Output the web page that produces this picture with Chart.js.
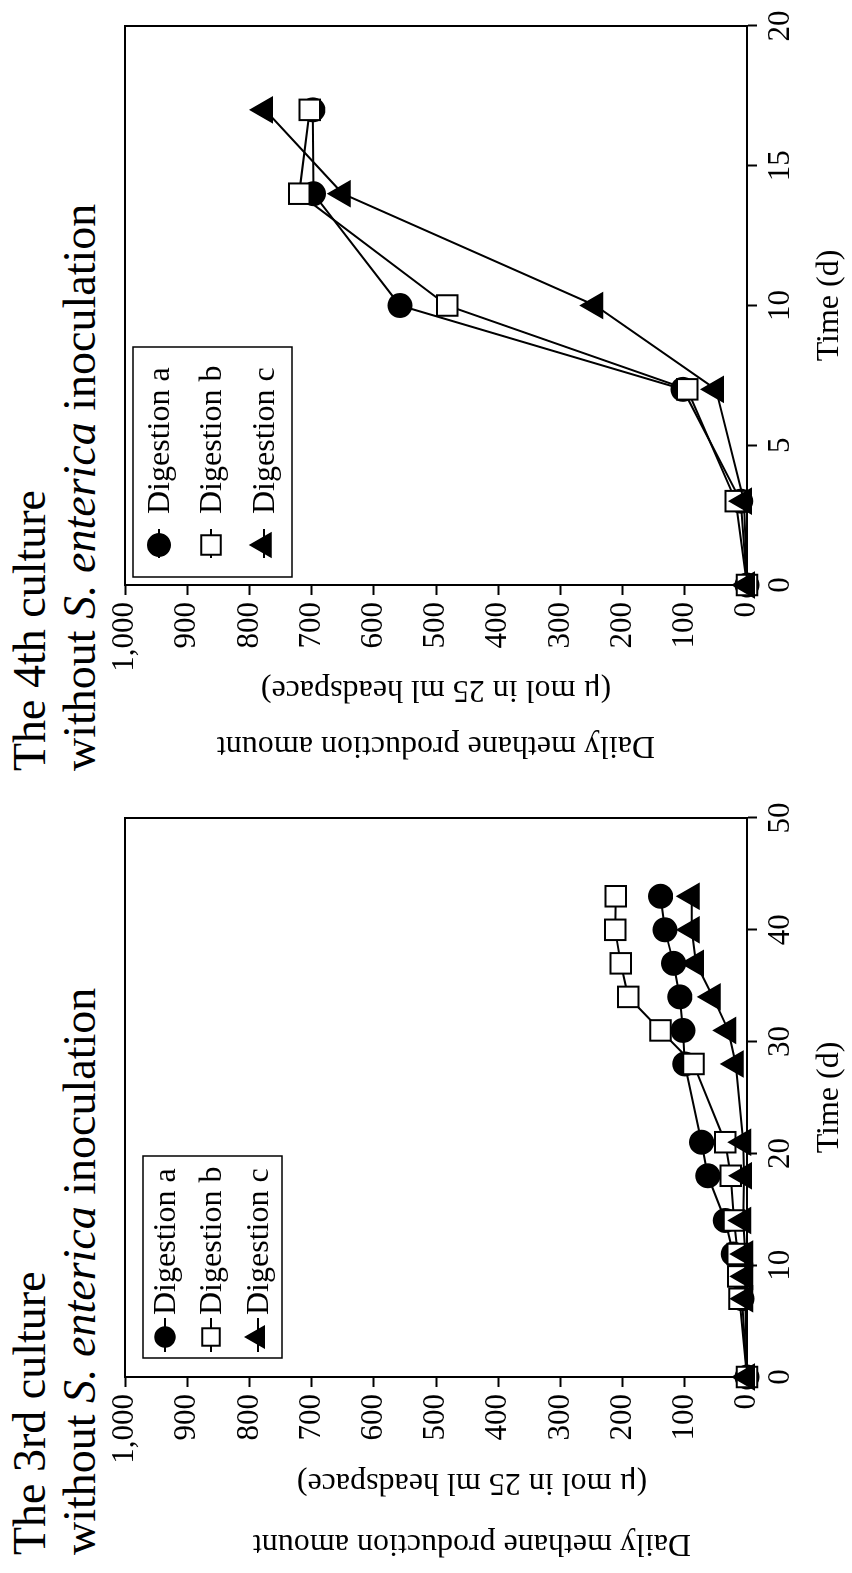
<!DOCTYPE html>
<html>
<head>
<meta charset="utf-8">
<script src="https://cdn.jsdelivr.net/npm/chart.js@4.4.1/dist/chart.umd.min.js"></script>
<style>
  html, body { margin: 0; padding: 0; background: #fff; }
  body { width: 852px; height: 1573px; overflow: hidden; position: relative; }
  /* figure is laid out landscape, then turned a quarter turn counter-clockwise */
  #figure { position: absolute; left: 0; top: 0; width: 1573px; height: 852px;
            transform-origin: 0 0; transform: translate(0, 1573px) rotate(-90deg); }
  .panel { position: absolute; top: 0; width: 786px; height: 852px; }
  .panel canvas { position: absolute; left: 0; top: 0; }
  .heading { position: absolute; top: 5px; font-family: "Liberation Serif", "Times New Roman", serif;
             font-size: 46px; line-height: 50px; color: #000; white-space: nowrap; }
</style>
</head>
<body>
<div id="figure">
  <div class="panel" style="left:0">
    <div class="heading" style="left:18px">The 3rd culture<br>without <i>S. enterica</i> inoculation</div>
    <canvas id="c3" width="786" height="852"></canvas>
  </div>
  <div class="panel" style="left:792px">
    <div class="heading" style="left:10px">The 4th culture<br>without <i>S. enterica</i> inoculation</div>
    <canvas id="c4" width="786" height="852"></canvas>
  </div>
</div>
<script>
// 3rd culture
const days3 = [0, 7, 9, 11, 14, 18, 21, 28, 31, 34, 37, 40, 43];
const digA3 = [0, 8, 12, 22, 35, 63, 73, 100, 103, 108, 118, 132, 139];
const digB3 = [0, 12, 14, 15, 21, 26, 35, 86, 139, 191, 203, 212, 211];
const digC3 = [0, 3, 3, 3, 6, 5, 6, 18, 30, 55, 82, 89, 89];

// 4th culture
const days4 = [0, 3, 7, 10, 14, 17];
const digA4 = [0, 10, 103, 558, 697, 698];
const digB4 = [0, 18, 96, 482, 720, 703];
const digC4 = [0, 5, 50, 244, 650, 775];

const seriesNames = ['Digestion a', 'Digestion b', 'Digestion c'];
const yTitle = ['Daily methane production amount', '(\u03bc mol in 25 ml headspace)'];

const FONT = '"Liberation Serif", "Times New Roman", serif';

const markerStyles = [
  { pointStyle: 'circle', pointRadius: 11.5, pointBackgroundColor: '#000', order: 3 },
  { pointStyle: 'rect', pointRadius: 14.5, pointBackgroundColor: '#fff', order: 2 },
  { pointStyle: 'triangle', pointRadius: 14, pointBackgroundColor: '#000', order: 1 },
];

function drawMarker(ctx, style, r, x, y) {
  ctx.beginPath();
  if (style === 'circle') {
    ctx.arc(x, y, r, 0, Math.PI * 2);
  } else if (style === 'rect') {
    const s = r / Math.SQRT2;
    ctx.rect(x - s, y - s, 2 * s, 2 * s);
  } else {
    let a = 0;
    ctx.moveTo(x + Math.sin(a) * r, y - Math.cos(a) * r);
    a += 2 * Math.PI / 3;
    ctx.lineTo(x + Math.sin(a) * r, y - Math.cos(a) * r);
    a += 2 * Math.PI / 3;
    ctx.lineTo(x + Math.sin(a) * r, y - Math.cos(a) * r);
    ctx.closePath();
  }
  ctx.fill();
  ctx.stroke();
}

// closed frame round the plotting area
const frameBox = {
  id: 'frameBox',
  beforeDatasetsDraw(chart) {
    const { ctx, chartArea: { left, top, right, bottom } } = chart;
    ctx.save();
    ctx.strokeStyle = '#000';
    ctx.lineWidth = 2;
    ctx.strokeRect(left, top, right - left, bottom - top);
    ctx.restore();
  }
};

// two-line value axis caption, centred where the opts say
const yCaption = {
  id: 'yCaption',
  afterDraw(chart, args, opts) {
    const { ctx } = chart;
    ctx.save();
    ctx.font = `${opts.size}px ${FONT}`;
    ctx.fillStyle = '#000';
    ctx.textAlign = 'center';
    ctx.textBaseline = 'middle';
    opts.lines.forEach((t, i) => {
      ctx.save();
      ctx.translate(opts.x[i], opts.center);
      ctx.rotate(-Math.PI / 2);
      ctx.fillText(t, 0, 0);
      ctx.restore();
    });
    ctx.restore();
  }
};

// boxed legend sitting in the upper left corner of the plot
const insetLegend = {
  id: 'insetLegend',
  afterDatasetsDraw(chart, args, opts) {
    const { ctx, chartArea: { left, top } } = chart;
    const b = opts.box;
    ctx.save();
    ctx.strokeStyle = '#000';
    ctx.lineWidth = 1.5;
    ctx.strokeRect(left + b.x, top + b.y, b.w, b.h);
    ctx.font = `${opts.fontSize}px ${FONT}`;
    ctx.textBaseline = 'middle';
    chart.data.datasets.forEach((ds, i) => {
      const y = top + opts.rows[i];
      ctx.strokeStyle = '#000';
      ctx.lineWidth = 2;
      ctx.beginPath();
      ctx.moveTo(left + opts.lineFrom, y);
      ctx.lineTo(left + opts.lineTo, y);
      ctx.stroke();
      ctx.fillStyle = ds.pointBackgroundColor;
      drawMarker(ctx, ds.pointStyle, ds.pointRadius * opts.markerScale, left + opts.markerX, y);
      ctx.fillStyle = '#000';
      ctx.fillText(ds.label, left + opts.textX, y + 2);
    });
    ctx.restore();
  }
};

function makeDatasets(values) {
  return values.map((v, i) => ({
    label: seriesNames[i],
    data: v,
    borderColor: '#000',
    borderWidth: 2,
    pointBorderColor: '#000',
    pointBorderWidth: 2,
    tension: 0,
    clip: false,
    ...markerStyles[i],
  }));
}

function makeChart(id, values, xMax, xStep, legendLayout, caption) {
  return new Chart(document.getElementById(id), {
    type: 'line',
    plugins: [frameBox, insetLegend, yCaption],
    data: { datasets: makeDatasets(values) },
    options: {
      responsive: false,
      animation: false,
      events: [],
      layout: { padding: { top: 125, right: 31, left: 0, bottom: 0 } },
      plugins: {
        legend: { display: false },
        tooltip: { enabled: false },
        insetLegend: legendLayout,
        yCaption: caption,
      },
      scales: {
        x: {
          type: 'linear',
          min: 0,
          max: xMax,
          ticks: { stepSize: xStep, color: '#000', font: { family: FONT, size: 31 }, padding: 5, maxRotation: 0 },
          grid: { drawOnChartArea: false, drawTicks: true, tickLength: 10, tickWidth: 2, color: '#000' },
          border: { color: '#000', width: 2 },
          title: { display: true, text: 'Time (d)', color: '#000', font: { family: FONT, size: 32 }, padding: { top: 0, bottom: 3 } },
          afterFit(scale) { scale.height = 105; },
        },
        y: {
          min: 0,
          max: 1000,
          ticks: { stepSize: 100, color: '#000', font: { family: FONT, size: 31 }, padding: 7,
                   callback: v => v.toLocaleString('en-US') },
          grid: { drawOnChartArea: false, drawTicks: true, tickLength: 10, tickWidth: 2, color: '#000' },
          border: { color: '#000', width: 2 },
          afterFit(scale) { scale.width = 196; },
        },
      },
    },
  });
}

function pairs(days, vals) {
  return vals.map(v => v.map((y, i) => ({ x: days[i], y })));
}

makeChart('c3', pairs(days3, [digA3, digB3, digC3]), 50, 10, {
  box: { x: 19, y: 18, w: 202, h: 139 },
  rows: [40, 86, 133],
  markerX: 40, lineFrom: 25, lineTo: 59, textX: 62, fontSize: 32, markerScale: 0.85,
}, { lines: yTitle, x: [30, 91], center: 472, size: 32 });

makeChart('c4', pairs(days4, [digA4, digB4, digC4]), 20, 5, {
  box: { x: 8, y: 8, w: 230, h: 159 },
  rows: [34, 86, 139],
  markerX: 40, lineFrom: 27, lineTo: 56, textX: 71, fontSize: 32, markerScale: 0.95,
}, { lines: yTitle, x: [36, 92], center: 436, size: 32 });
</script>
</body>
</html>
